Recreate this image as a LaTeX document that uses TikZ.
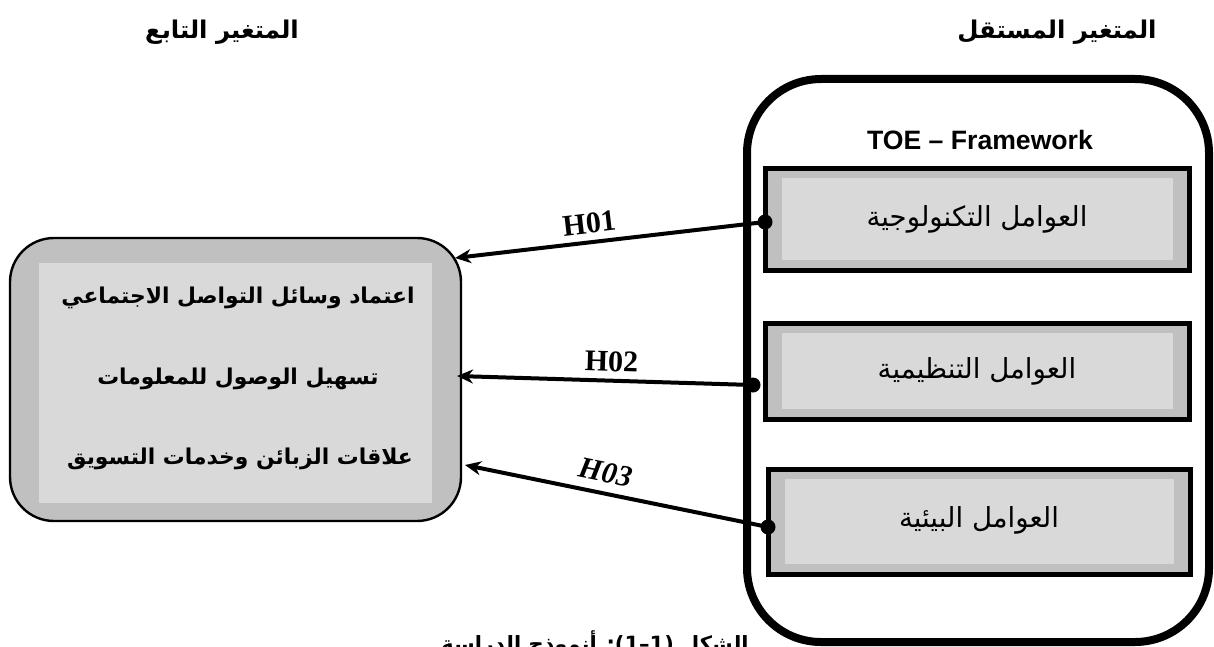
\documentclass[tikz,border=0pt]{standalone}
\usepackage{fontspec}
\usetikzlibrary{arrows.meta}
\TeXXeTstate=1
\setmainfont{Liberation Serif}
\newfontfamily\arabicfont[Script=Arabic]{DejaVu Sans}
\newfontfamily\latinsans{Liberation Sans}
\definecolor{boxgray}{HTML}{C0C0C0}
\definecolor{boxlight}{HTML}{D9D9D9}
\tikzset{
  bigframe/.style={draw, line width=4pt, rounded corners=37pt, minimum width=231pt, minimum height=281.5pt, inner sep=0pt},
  factorbox/.style={draw, line width=2.5pt, fill=boxgray, inner sep=0pt, font=\arabicfont\fontsize{13.8}{16}\selectfont,
    path picture={\fill[boxlight, sharp corners] ([xshift=8.5pt,yshift=-5pt]path picture bounding box.north west) rectangle ([xshift=-8pt,yshift=5pt]path picture bounding box.south east);}},
  depbox/.style={draw, line width=1.2pt, fill=boxgray, rounded corners=22pt, inner sep=0pt, minimum width=225.5pt, minimum height=141.5pt,
    path picture={\fill[boxlight, sharp corners] ([xshift=14.5pt,yshift=-12.5pt]path picture bounding box.north west) rectangle ([xshift=-14.5pt,yshift=9pt]path picture bounding box.south east);}},
  deptext/.style={font=\arabicfont\bfseries\fontsize{10.9}{13}\selectfont, inner sep=0pt},
  header/.style={font=\arabicfont\bfseries\fontsize{12.2}{15}\selectfont, inner sep=0pt},
  hyp/.style={draw, line width=2pt, -{Stealth[length=8pt,width=7pt]}},
  hyplabel/.style={font=\fontsize{15}{18}\selectfont\bfseries, sloped, above, inner sep=3.5pt},
  dot/.style={circle, fill=black, inner sep=0pt, minimum size=7.5pt}
}
\begin{document}
\begin{tikzpicture}[x=0.5pt,y=-0.5pt]
\useasboundingbox (0,0) rectangle (1214,647);
% headers
\node[header] (hind) at (1057,32) {\beginR المتغير المستقل\endR};
\node[header] (hdep) at (222,32) {\beginR المتغير التابع\endR};
% right framework
\node[bigframe] (frame) at (978,360.5) {};
\node[font=\latinsans\bfseries\fontsize{13.3}{16}\selectfont, inner sep=0pt] (toe) at (980,140) {TOE – Framework};
\node[factorbox, minimum width=212pt, minimum height=51pt] (f1) at (977,219) {\raisebox{3pt}{\beginR العوامل التكنولوجية\endR}};
\node[factorbox, minimum width=212pt, minimum height=48pt] (f2) at (977,371) {\raisebox{1pt}{\beginR العوامل التنظيمية\endR}};
\node[factorbox, minimum width=211pt, minimum height=52.5pt] (f3) at (979,521.5) {\raisebox{4pt}{\beginR العوامل البيئية\endR}};
% left dependent box
\node[depbox] (dep) at (235.5,379.5) {};
\node[deptext] (d1) at (238,298) {\beginR اعتماد وسائل التواصل الاجتماعي\endR};
\node[deptext] (d2) at (238,379) {\beginR تسهيل الوصول للمعلومات\endR};
\node[deptext] (d3) at (240,459) {\beginR علاقات الزبائن وخدمات التسويق\endR};
% connector ends
\coordinate (s1) at (765,222);
\coordinate (s2) at (753,385);
\coordinate (s3) at (768,527);
\coordinate (t1) at (455,258);
\coordinate (t2) at (457,376);
\coordinate (t3) at (465,465);
\draw[hyp] (s1) -- node[hyplabel, pos=0.56] (l1) {H01} (t1);
\draw[hyp] (s2) -- node[hyplabel, pos=0.48] (l2) {H02} (t2);
\draw[hyp] (s3) -- node[hyplabel, pos=0.55, inner sep=4.5pt, font=\fontsize{15}{18}\selectfont\bfseries\itshape] (l3) {H03} (t3);
\node[dot] (p1) at (s1) {};
\node[dot] (p2) at (s2) {};
\node[dot] (p3) at (s3) {};
% caption (clipped at bottom edge)
\node[font=\arabicfont\bfseries\fontsize{10.5}{13}\selectfont, inner sep=0pt, anchor=north] (cap) at (595,630) {\beginR الشكل \beginL(1–1)\endL: أنموذج الدراسة\endR};
\end{tikzpicture}
\end{document}
